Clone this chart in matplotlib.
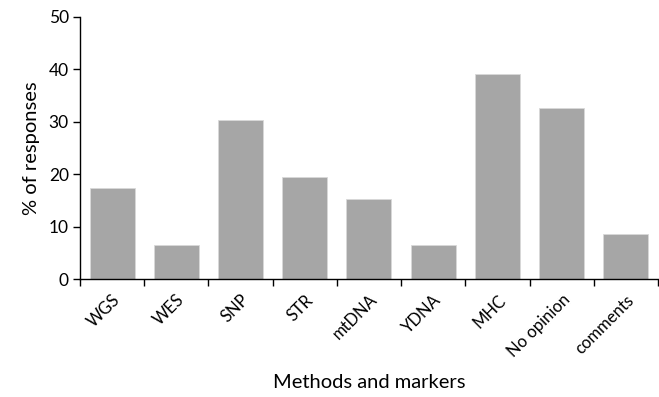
import matplotlib
matplotlib.use("Agg")
import matplotlib.pyplot as plt
import numpy as np

categorias = ["WGS", "WES", "SNP", "STR", "mtDNA", "YDNA", "MHC", "No opinion", "comments"]
porcentajes = [17.3, 6.5, 30.4, 19.5, 15.2, 6.5, 39.1, 32.6, 8.6]

plt.rcParams['font.family'] = ['Lato', 'DejaVu Sans']

fig = plt.figure(figsize=(6.59, 3.97), dpi=100)
ax = fig.add_axes([0.1214, 0.2965, 0.877, 0.6615])

x = np.arange(len(categorias))
ax.bar(x, porcentajes, width=0.7, color="#a6a6a6", edgecolor="#d9d9d9", linewidth=0.6)

ax.set_xlim(-0.5, len(categorias) - 0.5)
ax.set_ylim(0, 50)
ax.set_yticks([0, 10, 20, 30, 40, 50])

# ticks del eje x en los bordes de cada categoria
ax.set_xticks(np.arange(-0.5, len(categorias), 1.0))
ax.set_xticklabels([])
ax.set_xticks(x, minor=True)
ax.set_xticklabels(categorias, minor=True, rotation=45, ha="right", rotation_mode="anchor", fontsize=12)
ax.tick_params(axis="x", which="minor", length=0, pad=9)
ax.tick_params(axis="x", which="major", length=5, width=1, direction="out")
ax.tick_params(axis="y", length=5, width=1, labelsize=12.5, pad=3)

for lado in ["top", "right"]:
    ax.spines[lado].set_visible(False)
ax.spines["left"].set_linewidth(1)
ax.spines["bottom"].set_linewidth(1)

ax.set_ylabel("% of responses", fontsize=14.5, labelpad=6)
ax.set_xlabel("Methods and markers", fontsize=14.5, labelpad=10)

fig.savefig("out.png", dpi=100)
